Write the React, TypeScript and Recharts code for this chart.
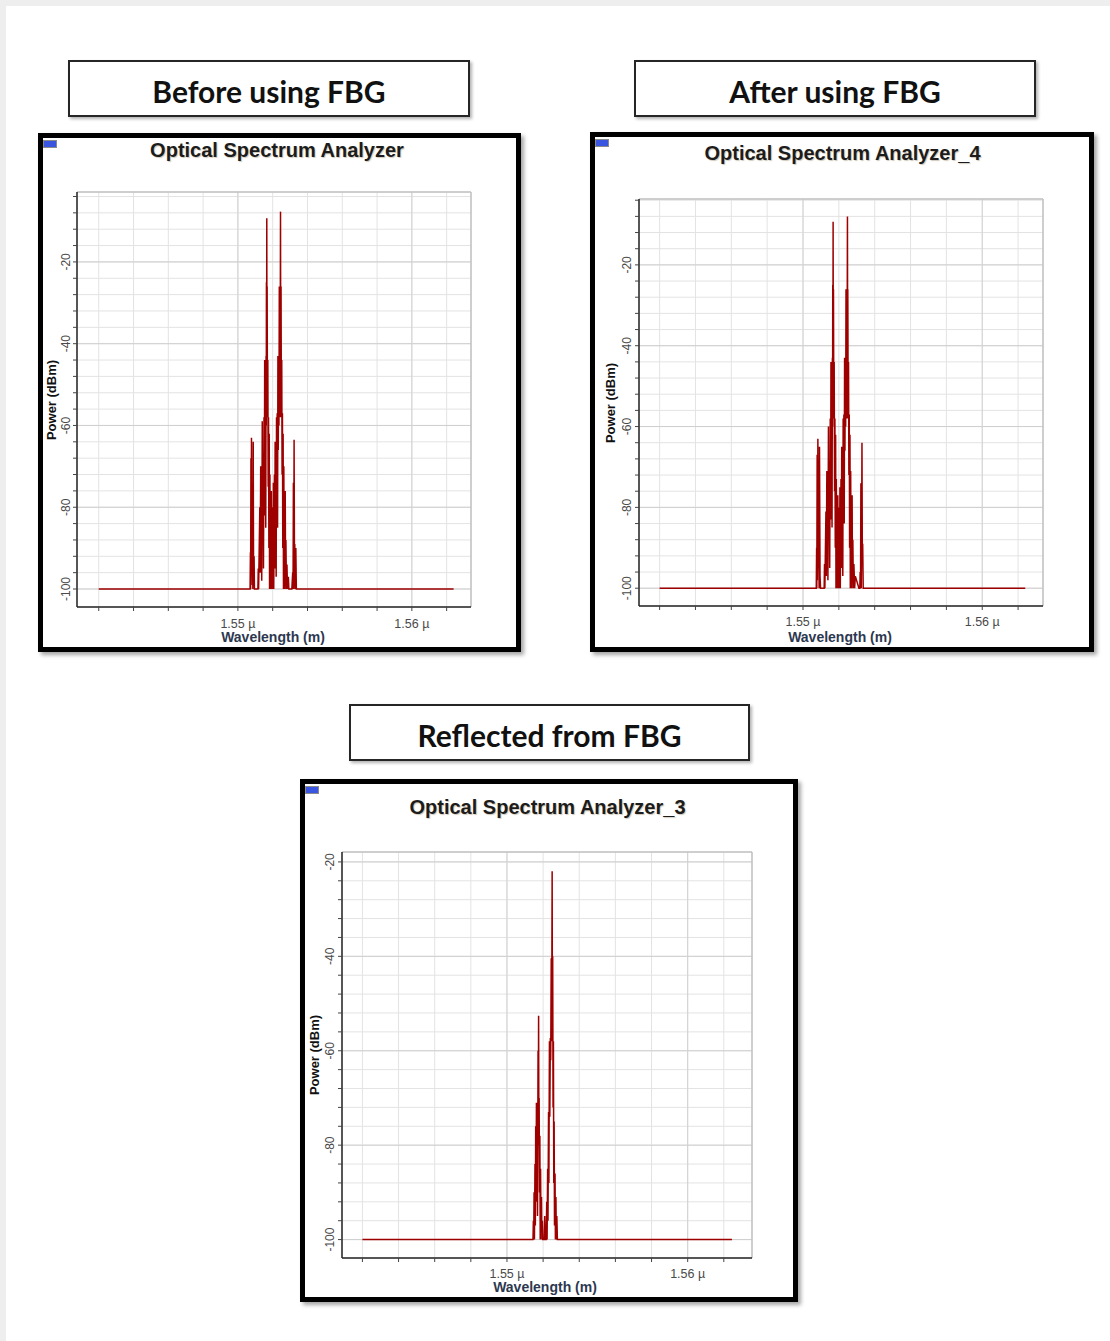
import React from "react";
import { LineChart, Line, XAxis, YAxis, CartesianGrid, ReferenceLine } from "recharts";

// ---------- axis ticks ----------
const xTicks = [1542, 1544, 1546, 1548, 1550, 1552, 1554, 1556, 1558, 1560, 1562];
const xTickLabels: Record<number, string> = { 1550: "1.55 \u00b5", 1560: "1.56 \u00b5" };
const xMajor = [1550, 1560];
const yTicksTop = [-100, -96, -92, -88, -84, -80, -76, -72, -68, -64, -60, -56, -52, -48, -44, -40, -36, -32, -28, -24, -20, -16, -12, -8, -4];
const yTicksBottom = [-100, -96, -92, -88, -84, -80, -76, -72, -68, -64, -60, -56, -52, -48, -44, -40, -36, -32, -28, -24, -20];
const yMajor = [-100, -80, -60, -40, -20];

// ---------- Before using FBG (wavelength nm, power dBm) ----------
const beforeNm = [
  1542.0, 1550.7, 1550.72, 1550.73, 1550.75, 1550.76, 1550.78, 1550.8, 1550.82, 1550.86, 1550.88, 1550.9, 1550.93, 1550.95,
  1551.15, 1551.17, 1551.19, 1551.26, 1551.28, 1551.31, 1551.33, 1551.35, 1551.37, 1551.4, 1551.42, 1551.45, 1551.47, 1551.5,
  1551.52, 1551.54, 1551.56, 1551.58, 1551.6, 1551.62, 1551.63, 1551.64, 1551.65, 1551.66, 1551.67, 1551.68, 1551.7, 1551.72,
  1551.74, 1551.76, 1551.78, 1551.8, 1551.82, 1551.84, 1551.86, 1551.88, 1551.9, 1551.92, 1551.94, 1551.96, 1551.98, 1552.0,
  1552.02, 1552.04, 1552.06, 1552.08, 1552.1, 1552.12, 1552.14, 1552.16, 1552.18, 1552.2, 1552.22, 1552.24, 1552.26, 1552.28,
  1552.3, 1552.32, 1552.34, 1552.36, 1552.38, 1552.4, 1552.42, 1552.43, 1552.44, 1552.45, 1552.46, 1552.48, 1552.5, 1552.52,
  1552.54, 1552.56, 1552.58, 1552.6, 1552.62, 1552.64, 1552.66, 1552.68, 1552.7, 1552.72, 1552.74, 1552.76, 1552.79, 1552.82,
  1552.85, 1552.9, 1552.93, 1553.1, 1553.15, 1553.17, 1553.19, 1553.21, 1553.23, 1553.25, 1553.27, 1553.3, 1553.33, 1553.36,
  1553.38, 1562.4,
];
const beforeDbm = [
  -100, -100, -91, -100, -68, -99, -63, -96, -88, -100, -64, -97, -92, -100,
  -100, -95, -100, -80, -96, -70, -90, -81, -98, -59, -88, -75, -95, -58,
  -82, -44, -70, -58, -85, -43, -60, -25, -44, -9.3, -43, -26, -58, -44,
  -75, -58, -90, -62, -100, -72, -95, -80, -100, -76, -98, -84, -100, -80,
  -96, -74, -100, -86, -72, -95, -64, -88, -70, -97, -58, -80, -57, -85,
  -43, -66, -44, -60, -26, -45, -58, -43, -26, -7.7, -43, -26, -58, -44,
  -72, -57, -90, -62, -100, -70, -96, -82, -100, -76, -98, -88, -100, -94,
  -100, -97, -100, -100, -96, -100, -74, -100, -63.5, -92, -89, -100, -90, -100,
  -100, -100,
];

// ---------- After using FBG ----------
const afterNm = [
  1542.0, 1550.74, 1550.76, 1550.77, 1550.79, 1550.8, 1550.83, 1550.85, 1550.87, 1550.9, 1550.92, 1550.95, 1550.98,
  1551.18, 1551.2, 1551.22, 1551.28, 1551.3, 1551.33, 1551.35, 1551.37, 1551.39, 1551.42, 1551.44, 1551.47, 1551.49, 1551.52,
  1551.54, 1551.56, 1551.58, 1551.6, 1551.62, 1551.64, 1551.65, 1551.66, 1551.67, 1551.68, 1551.69, 1551.7, 1551.72, 1551.74,
  1551.76, 1551.78, 1551.8, 1551.82, 1551.84, 1551.86, 1551.88, 1551.9, 1551.92, 1551.94, 1551.96, 1551.98, 1552.0, 1552.02,
  1552.04, 1552.06, 1552.08, 1552.1, 1552.12, 1552.14, 1552.16, 1552.18, 1552.2, 1552.22, 1552.24, 1552.26, 1552.28, 1552.3,
  1552.32, 1552.34, 1552.36, 1552.38, 1552.4, 1552.42, 1552.44, 1552.46, 1552.47, 1552.48, 1552.49, 1552.5, 1552.52, 1552.54,
  1552.56, 1552.58, 1552.6, 1552.62, 1552.64, 1552.66, 1552.68, 1552.7, 1552.72, 1552.74, 1552.76, 1552.78, 1552.81, 1552.84,
  1552.88, 1552.92, 1553.12, 1553.17, 1553.19, 1553.21, 1553.23, 1553.25, 1553.27, 1553.29, 1553.31, 1553.33, 1553.36, 1553.4,
  1562.4,
];
const afterDbm = [
  -100, -100, -90, -100, -67, -98, -63, -95, -87, -100, -65, -97, -100,
  -100, -94, -100, -81, -97, -71, -90, -80, -98, -60, -88, -76, -95, -58,
  -83, -44, -70, -57, -85, -43, -60, -25, -44, -9.3, -43, -26, -58, -44,
  -76, -58, -90, -62, -100, -73, -95, -81, -100, -77, -98, -85, -100, -80,
  -96, -75, -100, -86, -73, -95, -65, -88, -71, -97, -58, -80, -57, -84,
  -43, -66, -44, -60, -26, -45, -58, -43, -26, -8.0, -43, -26, -58, -44,
  -72, -57, -90, -62, -100, -71, -96, -82, -100, -77, -98, -88, -100, -94,
  -100, -97, -100, -100, -96, -100, -74, -100, -88, -64, -92, -89, -100, -100,
  -100,
];

// ---------- Reflected from FBG ----------
const reflectedNm = [
  1542.0, 1551.44, 1551.46, 1551.48, 1551.5, 1551.52, 1551.55, 1551.57, 1551.59, 1551.61, 1551.63, 1551.65, 1551.67, 1551.69,
  1551.72, 1551.735, 1551.75, 1551.765, 1551.78, 1551.8, 1551.82, 1551.84, 1551.86, 1551.88, 1551.91, 1551.93, 1551.96, 1551.98,
  1552.06, 1552.09, 1552.11, 1552.17, 1552.2, 1552.22, 1552.25, 1552.27, 1552.3, 1552.32, 1552.35, 1552.37, 1552.4, 1552.42,
  1552.45, 1552.47, 1552.5, 1552.515, 1552.53, 1552.55, 1552.57, 1552.59, 1552.61, 1552.63, 1552.66, 1552.68, 1552.71, 1552.73,
  1552.76, 1552.79, 1562.45,
];
const reflectedDbm = [
  -100, -100, -96, -100, -90, -100, -84, -97, -76, -92, -71, -88, -75, -95,
  -60, -80, -52.6, -76, -70, -90, -78, -100, -85, -97, -91, -100, -96, -100,
  -100, -95, -100, -100, -92, -100, -85, -96, -73, -88, -58, -74, -57.3, -62,
  -40.4, -58, -22, -57, -40, -72, -58, -88, -75, -97, -86, -100, -91, -100,
  -95, -100, -100,
];

type PanelCfg = {
  frame: { left: number; top: number; width: number; height: number };
  plot: { l: number; t: number; r: number; b: number };
  title: string;
  titleX: number;
  titleY: number;
  nm: number[];
  dbm: number[];
  xDomain: [number, number];
  yDomain: [number, number];
  yTicks: number[];
  yTickOff: number;
  yLabelX: number;
  xTickDy: number;
  xLabelX: number;
  xLabelY: number;
};

const FONT = "'Liberation Sans', Arial, sans-serif";
const LINE = "#9e0000";

function Panel(cfg: PanelCfg) {
  const B = 5;
  const innerW = cfg.frame.width - 2 * B;
  const innerH = cfg.frame.height - 2 * B;
  const data = cfg.nm.map((x, i) => ({ x, p: cfg.dbm[i] }));
  const yMajorHere = yMajor.filter((v) => v >= cfg.yDomain[0] && v <= cfg.yDomain[1]);

  const XTick = (props: any) => {
    const { x, y, payload } = props;
    const label = xTickLabels[payload.value];
    if (!label) return <g />;
    return (
      <text x={x} y={y - 6 + cfg.xTickDy} textAnchor="middle" dominantBaseline="central" fontSize={12.5} fill="#4a4a4a" fontFamily={FONT}>
        {label}
      </text>
    );
  };
  const YTick = (props: any) => {
    const { x, y, payload } = props;
    if (payload.value % 20 !== 0) return <g />;
    const cx = x + 6 - cfg.yTickOff;
    return (
      <text x={cx} y={y} transform={`rotate(-90, ${cx}, ${y})`} textAnchor="middle" dominantBaseline="central" fontSize={12} fill="#4a4a4a" fontFamily={FONT}>
        {payload.value}
      </text>
    );
  };

  return (
    <div
      style={{
        position: "absolute",
        left: cfg.frame.left,
        top: cfg.frame.top,
        width: cfg.frame.width,
        height: cfg.frame.height,
        boxSizing: "border-box",
        border: `${B}px solid #000`,
        background: "#fff",
        boxShadow: "3px 3px 4px rgba(0,0,0,0.35)",
      }}
    >
      <div style={{ position: "relative", width: innerW, height: innerH, overflow: "hidden" }}>
        <div style={{ position: "absolute", left: 0, top: 2, width: 14, height: 8, background: "#3a55e0", border: "1px solid #8a8a8a", boxSizing: "border-box" }} />
        <div
          style={{
            position: "absolute",
            left: cfg.titleX,
            top: cfg.titleY,
            transform: "translate(-50%, -50%)",
            whiteSpace: "nowrap",
            lineHeight: "22px",
            fontFamily: FONT,
            fontWeight: 700,
            fontSize: 20,
            color: "#1c1c1c",
            textShadow: "1px 1px 1px rgba(120,100,60,0.35)",
          }}
        >
          {cfg.title}
        </div>
        <div
          style={{
            position: "absolute",
            left: cfg.yLabelX,
            top: (cfg.plot.t + cfg.plot.b) / 2,
            transform: "translate(-50%, -50%) rotate(-90deg)",
            whiteSpace: "nowrap",
            lineHeight: "15px",
            fontFamily: FONT,
            fontWeight: 700,
            fontSize: 13,
            color: "#111",
          }}
        >
          Power (dBm)
        </div>
        <div
          style={{
            position: "absolute",
            left: cfg.xLabelX,
            top: cfg.xLabelY,
            transform: "translate(-50%, -50%)",
            whiteSpace: "nowrap",
            lineHeight: "16px",
            fontFamily: FONT,
            fontWeight: 700,
            fontSize: 14,
            color: "#2c3850",
          }}
        >
          Wavelength (m)
        </div>
        <div style={{ position: "absolute", left: 0, top: 0 }}>
          <LineChart
            width={innerW}
            height={innerH}
            data={data}
            margin={{ top: cfg.plot.t, right: innerW - cfg.plot.r, bottom: 0, left: 0 }}
          >
            <CartesianGrid stroke="#e3e3e3" strokeWidth={1} />
            {yMajorHere.map((v) => (
              <ReferenceLine key={"ym" + v} y={v} stroke="#cfcfcf" strokeWidth={1} />
            ))}
            {xMajor.map((v) => (
              <ReferenceLine key={"xm" + v} x={v} stroke="#d2d2d2" strokeWidth={1} />
            ))}
            <ReferenceLine y={cfg.yDomain[1]} stroke="#c2c2c2" strokeWidth={1.5} />
            <ReferenceLine x={cfg.xDomain[1]} stroke="#c2c2c2" strokeWidth={1.5} />
            <XAxis
              type="number"
              dataKey="x"
              domain={cfg.xDomain}
              allowDataOverflow
              ticks={xTicks}
              interval={0}
              height={innerH - cfg.plot.b}
              tickSize={4}
              tickMargin={2}
              axisLine={{ stroke: "#222", strokeWidth: 1.5 }}
              tickLine={{ stroke: "#444" }}
              tick={XTick}
            />
            <YAxis
              type="number"
              domain={cfg.yDomain}
              allowDataOverflow
              ticks={cfg.yTicks}
              interval={0}
              width={cfg.plot.l}
              tickSize={4}
              tickMargin={2}
              axisLine={{ stroke: "#222", strokeWidth: 1.5 }}
              tickLine={{ stroke: "#444" }}
              tick={YTick}
            />
            <Line type="linear" dataKey="p" stroke={LINE} strokeWidth={1.5} dot={false} isAnimationActive={false} />
          </LineChart>
        </div>
      </div>
    </div>
  );
}

function TitleBox({ left, top, width, text }: { left: number; top: number; width: number; text: string }) {
  return (
    <div
      style={{
        position: "absolute",
        left,
        top,
        width,
        height: 57,
        boxSizing: "border-box",
        border: "2px solid #262626",
        boxShadow: "2px 2px 3px rgba(0,0,0,0.3)",
        background: "#fff",
        display: "flex",
        alignItems: "center",
        justifyContent: "center",
        paddingTop: 5,
        fontFamily: "Lato, 'Open Sans', sans-serif",
        fontWeight: 700,
        fontSize: 30,
        color: "#111",
        whiteSpace: "nowrap",
      }}
    >
      {text}
    </div>
  );
}

export default function App() {
  return (
    <div style={{ position: "absolute", left: 0, top: 0, width: 1110, height: 1341, background: "#eeeeee", overflow: "hidden" }}>
      <div style={{ position: "absolute", left: 6, top: 6, right: 0, bottom: 0, background: "#fff" }} />
      <TitleBox left={68} top={60} width={402} text="Before using FBG" />
      <TitleBox left={634} top={60} width={402} text="After using FBG" />
      <TitleBox left={349} top={704} width={401} text="Reflected from FBG" />
      <Panel
        frame={{ left: 38, top: 133, width: 483, height: 519 }}
        plot={{ l: 34, t: 54, r: 428, b: 469 }}
        title="Optical Spectrum Analyzer"
        titleX={234}
        titleY={12}
        nm={beforeNm}
        dbm={beforeDbm}
        xDomain={[1540.75, 1563.4]}
        yDomain={[-104.4, -2.9]}
        yTicks={yTicksTop}
        yTickOff={11}
        yLabelX={8}
        xTickDy={17}
        xLabelX={230}
        xLabelY={499}
      />
      <Panel
        frame={{ left: 590, top: 132, width: 504, height: 520 }}
        plot={{ l: 44, t: 62, r: 448, b: 469 }}
        title="Optical Spectrum Analyzer_4"
        titleX={247.5}
        titleY={15.7}
        nm={afterNm}
        dbm={afterDbm}
        xDomain={[1540.85, 1563.39]}
        yDomain={[-104.4, -3.7]}
        yTicks={yTicksTop}
        yTickOff={12}
        yLabelX={15}
        xTickDy={16}
        xLabelX={245}
        xLabelY={500}
      />
      <Panel
        frame={{ left: 300, top: 779, width: 498, height: 523 }}
        plot={{ l: 37, t: 68, r: 447, b: 474 }}
        title="Optical Spectrum Analyzer_3"
        titleX={242.5}
        titleY={22.7}
        nm={reflectedNm}
        dbm={reflectedDbm}
        xDomain={[1540.87, 1563.56]}
        yDomain={[-103.9, -17.9]}
        yTicks={yTicksBottom}
        yTickOff={12}
        yLabelX={9}
        xTickDy={16}
        xLabelX={240}
        xLabelY={503}
      />
    </div>
  );
}
